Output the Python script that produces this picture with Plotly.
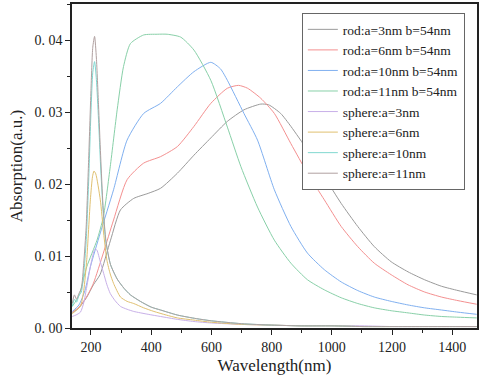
import plotly.graph_objects as go

# rod spectra (wavelength nm, absorption)
rod3_x = [138, 160, 185, 208, 230, 265, 298, 342, 390, 431, 487, 542, 598, 653, 708, 764, 790, 830, 864, 919, 975, 1031, 1086, 1141, 1197, 1253, 1308, 1364, 1419, 1481]
rod3_y = [0.0021, 0.0028, 0.0042, 0.0060, 0.0074, 0.0122, 0.0164, 0.0180, 0.0187, 0.0194, 0.0215, 0.0240, 0.0264, 0.0287, 0.0303, 0.0311, 0.0310, 0.0298, 0.0280, 0.0247, 0.0210, 0.0173, 0.0141, 0.0113, 0.0092, 0.0078, 0.0067, 0.0058, 0.0052, 0.0046]

rod6_x = [138, 160, 185, 208, 241, 275, 320, 375, 431, 487, 542, 598, 653, 690, 720, 764, 809, 864, 919, 975, 1031, 1086, 1141, 1197, 1253, 1308, 1364, 1419, 1481]
rod6_y = [0.0022, 0.0029, 0.0043, 0.0062, 0.0104, 0.0150, 0.0206, 0.0229, 0.0238, 0.0252, 0.0280, 0.0312, 0.0333, 0.0337, 0.0333, 0.0319, 0.0298, 0.0256, 0.0215, 0.0178, 0.0141, 0.0113, 0.0090, 0.0074, 0.0060, 0.0050, 0.0043, 0.0038, 0.0033]

rod10_x = [138, 160, 180, 198, 231, 275, 320, 375, 431, 487, 542, 598, 630, 653, 708, 753, 809, 864, 919, 975, 1031, 1086, 1141, 1197, 1253, 1308, 1364, 1419, 1481]
rod10_y = [0.0023, 0.0032, 0.0052, 0.0085, 0.0132, 0.0192, 0.0261, 0.0298, 0.0312, 0.0335, 0.0356, 0.0369, 0.0360, 0.0344, 0.0298, 0.0261, 0.0192, 0.0141, 0.0104, 0.0081, 0.0064, 0.0052, 0.0043, 0.0037, 0.0032, 0.0028, 0.0025, 0.0022, 0.0019]

rod11_x = [138, 160, 186, 220, 241, 264, 287, 308, 331, 375, 420, 453, 498, 542, 598, 653, 698, 753, 809, 864, 919, 975, 1031, 1086, 1141, 1197, 1253, 1308, 1364, 1419, 1481]
rod11_y = [0.0030, 0.0045, 0.0085, 0.0122, 0.0154, 0.0224, 0.0303, 0.0363, 0.0395, 0.0407, 0.0408, 0.0408, 0.0404, 0.0386, 0.0344, 0.0279, 0.0224, 0.0168, 0.0122, 0.0090, 0.0067, 0.0053, 0.0042, 0.0034, 0.0028, 0.0024, 0.0021, 0.0018, 0.0016, 0.0015, 0.0014]

# sphere spectra
sph3_x = [138, 150, 165, 176, 186, 198, 208, 214, 220, 231, 242, 253, 264, 280, 298, 320, 342, 390, 431, 487, 542, 600, 700, 800, 900, 1000, 1100, 1200, 1300, 1400, 1481]
sph3_y = [0.0016, 0.0018, 0.0022, 0.0035, 0.0057, 0.0085, 0.0104, 0.0110, 0.0108, 0.0092, 0.0076, 0.0060, 0.0048, 0.0038, 0.0030, 0.0026, 0.0023, 0.0019, 0.0016, 0.0012, 0.0009, 0.0007, 0.0005, 0.0004, 0.0003, 0.0003, 0.0003, 0.0002, 0.0002, 0.0002, 0.0002]

sph6_x = [138, 150, 165, 176, 186, 198, 205, 210, 216, 231, 242, 253, 264, 275, 298, 320, 342, 375, 409, 450, 487, 542, 600, 700, 800, 900, 1000, 1100, 1200, 1300, 1400, 1481]
sph6_y = [0.0020, 0.0024, 0.0030, 0.0052, 0.0095, 0.0178, 0.0210, 0.0218, 0.0214, 0.0178, 0.0132, 0.0094, 0.0075, 0.0062, 0.0043, 0.0037, 0.0034, 0.0028, 0.0023, 0.0018, 0.0014, 0.0011, 0.0008, 0.0005, 0.0004, 0.0003, 0.0003, 0.0002, 0.0002, 0.0002, 0.0002, 0.0002]

sph10_x = [138, 145, 152, 160, 168, 176, 184, 192, 200, 206, 212, 218, 225, 232, 240, 250, 265, 287, 310, 331, 364, 400, 431, 487, 550, 600, 700, 800, 900, 1000, 1100, 1200, 1300, 1400, 1481]
sph10_y = [0.0030, 0.0040, 0.0036, 0.0045, 0.0050, 0.0075, 0.0120, 0.0200, 0.0300, 0.0355, 0.0370, 0.0345, 0.0290, 0.0225, 0.0165, 0.0118, 0.0088, 0.0068, 0.0055, 0.0046, 0.0037, 0.0029, 0.0025, 0.0018, 0.0013, 0.0010, 0.0006, 0.0004, 0.0003, 0.0003, 0.0002, 0.0002, 0.0002, 0.0002, 0.0002]

sph11_x = [138, 145, 152, 160, 168, 176, 184, 192, 200, 206, 212, 218, 225, 232, 240, 250, 265, 287, 310, 331, 364, 400, 431, 487, 550, 600, 700, 800, 900, 1000, 1100, 1200, 1300, 1400, 1481]
sph11_y = [0.0034, 0.0046, 0.0040, 0.0048, 0.0055, 0.0090, 0.0140, 0.0230, 0.0330, 0.0390, 0.0405, 0.0375, 0.0310, 0.0240, 0.0170, 0.0120, 0.0088, 0.0068, 0.0055, 0.0046, 0.0037, 0.0029, 0.0025, 0.0018, 0.0013, 0.0010, 0.0006, 0.0004, 0.0003, 0.0003, 0.0002, 0.0002, 0.0002, 0.0002, 0.0002]

names = ["rod:a=3nm b=54nm", "rod:a=6nm b=54nm", "rod:a=10nm b=54nm", "rod:a=11nm b=54nm",
         "sphere:a=3nm", "sphere:a=6nm", "sphere:a=10nm", "sphere:a=11nm"]
colors = ["#9a9a9a", "#f49090", "#80b0f0", "#88d0a8", "#c8b0e8", "#e0c070", "#80d8d0", "#b0a0a0"]
xs = [rod3_x, rod6_x, rod10_x, rod11_x, sph3_x, sph6_x, sph10_x, sph11_x]
ys = [rod3_y, rod6_y, rod10_y, rod11_y, sph3_y, sph6_y, sph10_y, sph11_y]

y_ticks = [0, 0.01, 0.02, 0.03, 0.04]
y_labels = ["0. 00", "0. 01", "0. 02", "0. 03", "0. 04"]

fig = go.Figure()
for n, c, x, y in zip(names, colors, xs, ys):
    fig.add_trace(go.Scatter(x=x, y=y, name=n, mode="lines",
                             line=dict(color=c, width=1, shape="spline", smoothing=0.6)))

font = "Liberation Serif"
fig.update_layout(
    width=480, height=379, autosize=False,
    margin=dict(l=72, r=3, t=4, b=51),
    plot_bgcolor="white", paper_bgcolor="white",
    font=dict(family=font, color="#222", size=14),
    # anchored on the right so the box stays inside the plot (no margin push)
    legend=dict(x=0.97, y=0.972, xanchor="right", yanchor="top",
                bordercolor="#666", borderwidth=1, bgcolor="white",
                font=dict(size=13.5), tracegroupgap=0, itemwidth=30),
    xaxis=dict(title=dict(text="Wavelength(nm)", font=dict(size=17), standoff=6),
               automargin=False,
               range=[137, 1482], tickvals=[200, 400, 600, 800, 1000, 1200, 1400],
               ticks="outside", ticklen=5, tickcolor="#222",
               minor=dict(ticks="outside", ticklen=3, dtick=100, tick0=0, tickcolor="#222"),
               showline=True, linecolor="#222", linewidth=1.5, mirror=True,
               showgrid=False, zeroline=False),
    yaxis=dict(title=dict(text="Absorption(a.u.)", font=dict(size=17), standoff=8),
               automargin=False,
               range=[0, 0.045], tickvals=y_ticks, ticktext=y_labels,
               ticks="outside", ticklen=5, tickcolor="#222",
               minor=dict(ticks="outside", ticklen=3, dtick=0.005, tick0=0, tickcolor="#222"),
               showline=True, linecolor="#222", linewidth=1.5, mirror=True,
               showgrid=False, zeroline=False),
)

# page body has an 8px default margin; drop it so the figure sits at 0,0
fig.write_html("out.html",
               config=dict(displayModeBar=False, responsive=False),
               post_script="document.body.style.margin='0';document.body.style.overflow='hidden';")
